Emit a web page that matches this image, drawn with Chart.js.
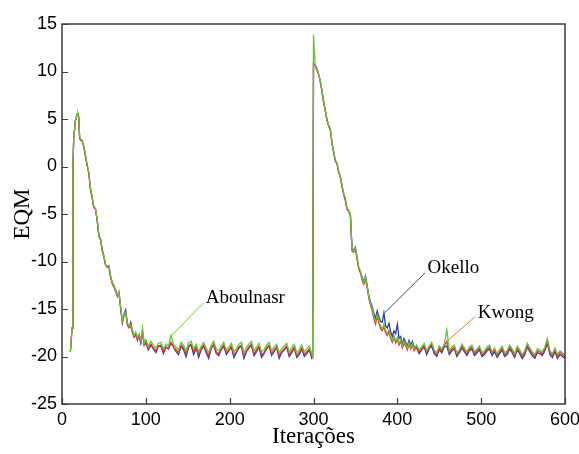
<!DOCTYPE html>
<html>
<head>
<meta charset="utf-8">
<script src="https://cdn.jsdelivr.net/npm/chart.js@4.4.1/dist/chart.umd.min.js"></script>
<style>
html,body{margin:0;padding:0;background:#fff;}
#wrap{width:579px;height:454px;position:relative;}
</style>
</head>
<body>
<div id="wrap"><canvas id="c" width="579" height="454"></canvas></div>
<script>
// Iteration index of each sample
const iterations = [
10,12,13,14,16,18,19,20,21,22,24,26,28,30,32,34,36,38,40,42,44,46,48,50,52,54,56,58,60,62,64,66,68,70,72,74,76,78,80,82,84,86,88,90,92,94,96,98,100,
103,106,109,112,115,118,121,124,127,130,133,136,139,142,145,148,151,154,157,160,163,166,169,172,175,178,181,184,187,190,
193,196,199,202,205,208,211,214,217,220,223,226,229,232,235,238,241,244,247,250,253,256,259,262,265,268,271,274,277,280,
283,286,289,292,295,298,
299,300,
302,304,306,308,310,312,314,316,318,320,322,324,326,328,330,332,334,336,338,340,342,344,346,348,350,352,354,356,358,360,
362,364,366,368,370,372,374,376,378,380,382,384,386,388,390,392,394,396,398,400,402,404,406,408,410,412,414,416,418,420,
423,426,429,432,435,438,441,444,447,450,453,456,459,462,465,468,471,474,477,480,483,486,489,492,495,498,501,504,507,510,
513,516,519,522,525,528,531,534,537,540,543,546,549,552,555,558,561,564,567,570,573,576,579,582,585,588,591,594,597,600
];

// Aboulnasr (green)
const aboulnasr = [
-19.5,-17.0,0.0,3.0,4.8,5.5,5.6,5.2,3.2,2.9,2.8,2.2,1.2,0.2,-0.6,-2.3,-3.2,-4.2,-4.4,-5.6,-7.2,-7.6,-8.8,-9.4,-10.3,-10.5,-10.4,-11.5,-12.3,-12.5,-13.1,-13.6,-13.3,-14.8,-16.3,-15.6,-15.3,-16.5,-16.8,-16.6,-17.2,-17.8,-17.4,-18.0,-17.6,-18.3,-17.0,-18.6,-18.2,
-18.9,-18.4,-18.8,-19.1,-18.6,-18.5,-19.2,-18.7,-18.9,-17.8,
-18.7,-19.0,-19.3,-18.5,-18.8,-19.4,-18.6,-18.4,-19.2,-18.7,
-19.5,-18.9,-18.5,-19.1,-19.6,-18.8,-18.4,-19.2,-19.4,-18.9,
-18.5,-19.3,-19.0,-18.6,-19.5,-19.2,-18.7,-18.5,-19.6,-19.1,
-18.7,-18.4,-19.4,-19.0,-18.6,-19.5,-19.3,-18.8,-18.5,-19.4,
-19.0,-18.7,-19.6,-19.2,-18.9,-18.6,-19.5,-19.1,-18.7,-19.6,
-19.3,-18.8,-19.5,-19.2,-18.9,-19.7,
-20.0,13.9,
10.6,10.2,9.8,9.0,8.1,6.8,6.0,4.9,4.4,4.0,
2.6,1.6,0.7,0.4,-0.5,-1.0,-2.0,-2.8,-3.4,-4.4,
-4.6,-5.0,-8.8,-8.9,-8.6,-9.6,-10.6,-11.0,-11.8,-12.2,
-11.6,-12.6,-13.7,-14.4,-14.9,-15.8,-16.3,-15.6,-16.2,-16.8,
-17.1,-16.6,-17.3,-17.6,-17.2,-17.9,-18.3,-17.8,-18.4,-18.0,
-18.6,-18.2,-18.9,-18.4,-18.7,-19.1,-18.5,-19.0,-18.6,-19.2,
-18.8,-19.3,-19.0,-18.6,-19.4,-18.9,-18.5,-19.3,-19.6,-18.9,
-19.2,-18.7,-17.2,-19.4,-19.0,-18.8,-19.6,-19.3,-18.7,-19.1,
-19.5,-19.0,-18.8,-19.5,-19.2,-18.9,-19.6,-19.4,-19.0,-18.8,
-19.5,-19.1,-19.7,-19.3,-18.9,-19.6,-19.4,-18.8,-19.2,-19.7,
-18.9,-19.3,-19.8,-19.4,-18.6,-19.1,-19.5,-19.8,-19.2,-19.3,
-19.5,-19.0,-18.1,-19.4,-19.7,-19.1,-19.8,-19.4,-19.6,-19.9
];

// Okello (blue)
const okello = [
-19.5,-17.0,0.0,3.0,4.8,5.5,5.6,5.1,3.0,2.8,2.7,2.1,1.1,0.1,-0.7,-2.4,-3.3,-4.3,-4.5,-5.7,-7.3,-7.7,-8.7,-9.5,-10.4,-10.6,-10.5,-11.6,-12.2,-12.6,-13.0,-13.5,-13.4,-14.9,-16.4,-15.5,-15.1,-16.6,-16.9,-16.4,-17.4,-17.9,-17.6,-18.3,-17.8,-18.6,-17.4,-18.8,-18.5,
-19.3,-18.8,-19.2,-19.6,-18.9,-18.9,-19.7,-19.0,-19.2,-18.6,
-19.0,-19.5,-19.8,-18.9,-19.3,-20.0,-19.0,-18.8,-19.8,-19.1,
-20.1,-19.3,-18.9,-19.6,-20.2,-19.1,-18.8,-19.7,-19.9,-19.3,
-18.9,-19.8,-19.4,-19.0,-20.1,-19.6,-19.1,-18.9,-20.2,-19.5,
-19.1,-18.8,-19.9,-19.5,-19.0,-20.1,-19.7,-19.2,-18.9,-19.9,
-19.5,-19.0,-20.2,-19.6,-19.3,-19.0,-20.0,-19.6,-19.1,-20.1,
-19.8,-19.2,-20.0,-19.7,-19.3,-20.2,
-20.1,10.8,
10.7,10.3,9.7,9.1,8.0,6.9,5.9,5.0,4.3,3.9,
2.5,1.5,0.6,0.3,-0.6,-1.1,-2.1,-2.9,-3.6,-4.5,
-4.7,-5.1,-8.7,-8.8,-8.5,-9.7,-10.7,-11.1,-11.7,-12.1,
-11.5,-12.5,-13.6,-14.3,-14.7,-15.5,-16.0,-15.2,-15.8,-16.3,
-16.4,-15.4,-16.8,-17.0,-16.5,-17.4,-17.9,-17.3,-17.6,-16.6,
-18.1,-17.9,-18.7,-18.1,-18.5,-18.9,-18.3,-18.8,-18.4,-19.0,
-19.1,-19.7,-19.3,-19.0,-19.8,-19.2,-18.9,-19.7,-20.0,-19.3,
-19.6,-19.0,-18.9,-19.8,-19.4,-19.2,-20.0,-19.6,-19.1,-19.5,
-19.9,-19.4,-19.2,-19.9,-19.6,-19.3,-20.0,-19.8,-19.4,-19.2,
-19.9,-19.5,-20.1,-19.7,-19.3,-20.0,-19.8,-19.2,-19.6,-20.1,
-19.3,-19.7,-20.2,-19.8,-19.0,-19.5,-19.9,-20.2,-19.6,-19.7,
-19.9,-19.4,-18.6,-19.8,-20.1,-19.5,-20.2,-19.8,-20.0,-20.2
];

// Kwong (red)
const kwong = [
-19.5,-17.0,0.0,3.0,4.8,5.5,5.6,5.1,3.1,2.8,2.7,2.1,1.1,0.1,-0.7,-2.4,-3.3,-4.3,-4.5,-5.7,-7.3,-7.7,-8.9,-9.5,-10.4,-10.6,-10.6,-11.7,-12.4,-12.7,-13.2,-13.7,-13.2,-14.9,-16.5,-15.7,-15.4,-16.7,-17.0,-16.8,-17.4,-18.0,-17.7,-18.2,-17.8,-18.5,-17.3,-18.8,-18.6,
-19.2,-18.7,-19.1,-19.4,-18.9,-18.8,-19.5,-19.0,-19.2,-18.5,
-19.0,-19.3,-19.6,-18.8,-19.1,-19.7,-18.9,-18.7,-19.5,-19.0,
-19.8,-19.2,-18.8,-19.4,-19.9,-19.1,-18.7,-19.5,-19.7,-19.2,
-18.8,-19.6,-19.3,-18.9,-19.8,-19.5,-19.0,-18.8,-19.9,-19.4,
-19.0,-18.7,-19.7,-19.3,-18.9,-19.8,-19.6,-19.1,-18.8,-19.7,
-19.3,-19.0,-19.9,-19.5,-19.2,-18.9,-19.8,-19.4,-19.0,-19.9,
-19.6,-19.1,-19.8,-19.5,-19.2,-20.0,
-20.0,10.8,
10.6,10.1,9.7,8.9,8.0,6.7,5.9,4.8,4.3,3.9,
2.5,1.5,0.6,0.3,-0.6,-1.1,-2.1,-2.9,-3.5,-4.5,
-4.7,-5.1,-8.9,-9.0,-8.7,-9.7,-10.8,-11.2,-12.0,-12.4,
-11.8,-12.8,-13.9,-14.6,-15.2,-16.0,-16.6,-15.8,-16.4,-17.1,
-17.3,-16.9,-17.5,-17.8,-17.4,-18.1,-18.5,-18.0,-18.6,-18.2,
-18.8,-18.4,-19.1,-18.6,-18.9,-19.3,-18.7,-19.2,-18.8,-19.4,
-19.0,-19.5,-19.2,-18.8,-19.6,-19.1,-18.7,-19.5,-19.8,-19.1,
-19.4,-18.9,-18.4,-19.6,-19.2,-19.0,-19.8,-19.5,-18.9,-19.3,
-19.7,-19.2,-19.0,-19.7,-19.4,-19.1,-19.8,-19.6,-19.2,-19.0,
-19.7,-19.3,-19.9,-19.5,-19.1,-19.8,-19.6,-19.0,-19.4,-19.9,
-19.1,-19.5,-20.0,-19.6,-18.8,-19.3,-19.7,-20.0,-19.4,-19.5,
-19.7,-19.2,-18.4,-19.6,-19.9,-19.3,-20.0,-19.6,-19.8,-20.1
];

const xTicks = [0, 100, 200, 300, 400, 500, 600];
const yTicks = [-25, -20, -15, -10, -5, 0, 5, 10, 15];
const seriesNames = ['Aboulnasr', 'Kwong', 'Okello'];

// annotation labels
const labelNames = ['Aboulnasr', 'Okello', 'Kwong'];
const labelPointX = [131, 385, 459];
const labelPointY = [-17.75, -15.4, -18.4];
const labelLineEndX = [168.5, 433, 493];
const labelLineEndY = [-14.4, -11.2, -15.8];
const labelTextX = [171.5, 436, 496];
const labelTextY = [-14.4, -11.2, -15.95];
const labelColors = ['#78c850', '#2a4a9e', '#f07838'];

if (!(iterations.length === aboulnasr.length && iterations.length === okello.length && iterations.length === kwong.length)) {
  console.error('length mismatch', iterations.length, aboulnasr.length, okello.length, kwong.length);
}

const toPts = arr => iterations.map((x, i) => ({x: x, y: arr[i]}));

const framePlugin = {
  id: 'frame',
  afterDatasetsDraw(chart) {
    const {ctx, chartArea: a, scales} = chart;
    ctx.save();
    ctx.strokeStyle = '#3c3c3c';
    ctx.lineWidth = 1.5;
    ctx.strokeRect(a.left, a.top, a.right - a.left, a.bottom - a.top);
    ctx.lineWidth = 1.2;
    ctx.beginPath();
    xTicks.forEach(v => {
      const px = Math.round(scales.x.getPixelForValue(v)) + 0.5;
      ctx.moveTo(px, a.bottom);
      ctx.lineTo(px, a.bottom - 6);
    });
    yTicks.forEach(v => {
      const py = Math.round(scales.y.getPixelForValue(v)) + 0.5;
      ctx.moveTo(a.left, py);
      ctx.lineTo(a.left + 6, py);
    });
    ctx.stroke();
    // annotations
    ctx.font = '19px "Liberation Serif", "Times New Roman", serif';
    ctx.textBaseline = 'alphabetic';
    ctx.textAlign = 'left';
    labelNames.forEach((name, i) => {
      ctx.strokeStyle = labelColors[i];
      ctx.lineWidth = 1;
      ctx.beginPath();
      ctx.moveTo(scales.x.getPixelForValue(labelPointX[i]), scales.y.getPixelForValue(labelPointY[i]));
      ctx.lineTo(scales.x.getPixelForValue(labelLineEndX[i]), scales.y.getPixelForValue(labelLineEndY[i]));
      ctx.stroke();
      ctx.fillStyle = '#000';
      ctx.fillText(name, scales.x.getPixelForValue(labelTextX[i]), scales.y.getPixelForValue(labelTextY[i]));
    });
    ctx.restore();
  }
};

new Chart(document.getElementById('c'), {
  type: 'line',
  data: {
    datasets: [
      {label: seriesNames[0], data: toPts(aboulnasr), borderColor: '#6cc040'},
      {label: seriesNames[1], data: toPts(kwong), borderColor: '#e8302c'},
      {label: seriesNames[2], data: toPts(okello), borderColor: '#2b3f9c'}
    ].map(d => Object.assign(d, {borderWidth: 1.3, pointRadius: 0, tension: 0, fill: false}))
  },
  options: {
    responsive: false,
    animation: false,
    events: [],
    layout: {padding: {top: 24, right: 14, left: 0, bottom: 0}},
    plugins: {legend: {display: false}, tooltip: {enabled: false}},
    scales: {
      x: {
        type: 'linear', min: 0, max: 600,
        afterBuildTicks: s => { s.ticks = xTicks.map(v => ({value: v})); },
        grid: {display: false, drawTicks: false},
        border: {display: false},
        ticks: {font: {family: '"Liberation Sans", Arial, sans-serif', size: 18}, color: '#000', padding: 5, maxRotation: 0, autoSkip: false},
        title: {display: true, text: 'Iterações', color: '#000', font: {family: '"Liberation Serif", "Times New Roman", serif', size: 23}, padding: {top: 0, bottom: 3}},
        afterFit: s => { s.height = 50; s.paddingLeft = 0; s.paddingRight = 0; }
      },
      y: {
        type: 'linear', min: -25, max: 15,
        afterBuildTicks: s => { s.ticks = yTicks.map(v => ({value: v})); },
        grid: {display: false, drawTicks: false},
        border: {display: false},
        ticks: {font: {family: '"Liberation Sans", Arial, sans-serif', size: 18}, color: '#000', padding: 5, autoSkip: false},
        title: {display: true, text: 'EQM', color: '#000', font: {family: '"Liberation Serif", "Times New Roman", serif', size: 23}, padding: {top: 9, bottom: 0}},
        afterFit: s => { s.width = 62; s.paddingTop = 0; s.paddingBottom = 0; }
      }
    }
  },
  plugins: [framePlugin]
});
</script>
</body>
</html>
